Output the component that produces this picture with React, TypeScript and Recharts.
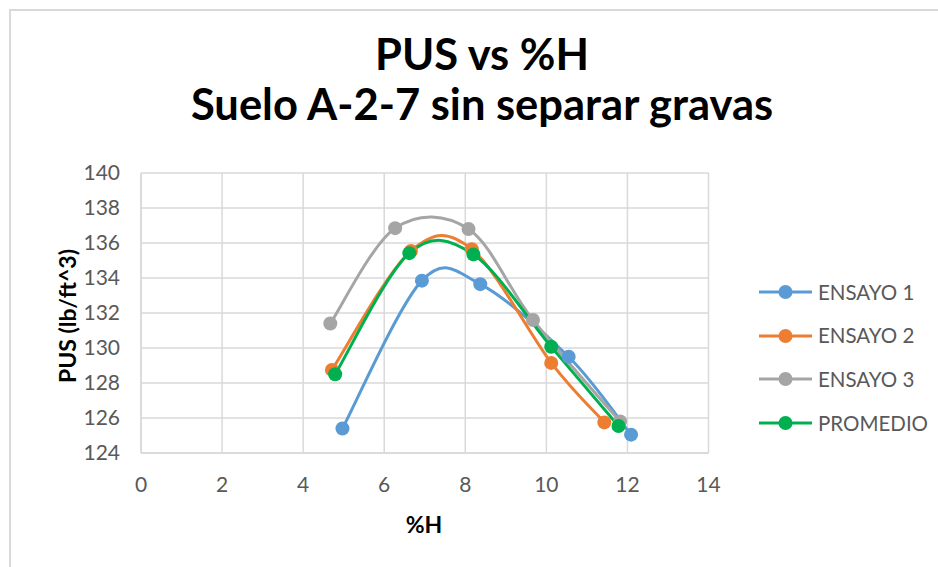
import { LineChart, Line, XAxis, YAxis, CartesianGrid, Legend } from "recharts";

// values (%H, PUS)
const ensayo1X = [4.97, 6.93, 8.37, 10.55, 12.09];
const ensayo1Y = [125.4, 133.85, 133.65, 129.5, 125.05];
const ensayo2X = [4.71, 6.66, 8.16, 10.12, 11.43];
const ensayo2Y = [128.75, 135.55, 135.65, 129.15, 125.75];
const ensayo3X = [4.67, 6.27, 8.08, 9.67, 11.82];
const ensayo3Y = [131.4, 136.85, 136.8, 131.6, 125.8];
const promedioX = [4.79, 6.62, 8.2, 10.12, 11.78];
const promedioY = [128.5, 135.42, 135.35, 130.07, 125.54];

const xTicks = [0, 2, 4, 6, 8, 10, 12, 14];
const yTicks = [124, 126, 128, 130, 132, 134, 136, 138, 140];

const FONT = "Lato, 'Open Sans', sans-serif";

const toPoints = (xs: number[], ys: number[]) =>
  xs.map((x, i) => ({ x, y: ys[i] }));

const series = [
  { name: "ENSAYO 1", color: "#5B9BD5", data: toPoints(ensayo1X, ensayo1Y) },
  { name: "ENSAYO 2", color: "#ED7D31", data: toPoints(ensayo2X, ensayo2Y) },
  { name: "ENSAYO 3", color: "#A5A5A5", data: toPoints(ensayo3X, ensayo3Y) },
  { name: "PROMEDIO", color: "#00B050", data: toPoints(promedioX, promedioY) },
];

// Excel-like smoothed line (Catmull-Rom through the points)
const excelSmooth = (context: any) => {
  let pts: number[][] = [];
  return {
    areaStart() {},
    areaEnd() {},
    lineStart() {
      pts = [];
    },
    point(x: number, y: number) {
      pts.push([+x, +y]);
    },
    lineEnd() {
      if (!pts.length) return;
      context.moveTo(pts[0][0], pts[0][1]);
      for (let i = 0; i < pts.length - 1; i++) {
        const p0 = pts[Math.max(i - 1, 0)];
        const p1 = pts[i];
        const p2 = pts[i + 1];
        const p3 = pts[Math.min(i + 2, pts.length - 1)];
        context.bezierCurveTo(
          p1[0] + (p2[0] - p0[0]) / 6,
          p1[1] + (p2[1] - p0[1]) / 6,
          p2[0] - (p3[0] - p1[0]) / 6,
          p2[1] - (p3[1] - p1[1]) / 6,
          p2[0],
          p2[1]
        );
      }
    },
  };
};

const renderLegend = (props: any) => (
  <div>
    {(props.payload || []).map((entry: any) => (
      <div
        key={entry.value}
        style={{ display: "flex", alignItems: "center", height: 43.8 }}
      >
        <svg width={53} height={16}>
          <line x1={0} y1={8} x2={53} y2={8} stroke={entry.color} strokeWidth={3} />
          <circle cx={26.5} cy={8} r={7} fill={entry.color} />
        </svg>
        <span
          style={{
            marginLeft: 6,
            fontSize: 20.5,
            color: "#595959",
            fontFamily: FONT,
            lineHeight: 1,
          }}
        >
          {entry.value}
        </span>
      </div>
    ))}
  </div>
);

export default function App() {
  return (
    <div
      style={{
        position: "fixed",
        left: 0,
        top: 0,
        width: 938,
        height: 567,
        background: "#fff",
        overflow: "hidden",
        fontFamily: FONT,
      }}
    >
      {/* chart area border (only top/left visible) */}
      <div
        style={{
          position: "absolute",
          left: 9,
          top: 9,
          width: 1000,
          height: 700,
          borderTop: "2px solid #D9D9D9",
          borderLeft: "2px solid #D9D9D9",
        }}
      />

      <div
        style={{
          position: "absolute",
          left: 0,
          top: 28,
          width: 964,
          textAlign: "center",
          fontWeight: 700,
          fontSize: 43.5,
          lineHeight: "50px",
          color: "#000",
        }}
      >
        <div>PUS vs %H</div>
        <div>Suelo A-2-7 sin separar gravas</div>
      </div>

      <div style={{ position: "absolute", left: 0, top: 0 }}>
        <LineChart
          width={938}
          height={567}
          margin={{ top: 173, right: 229.5, bottom: 74, left: 81 }}
        >
          <CartesianGrid stroke="#D9D9D9" strokeWidth={1.5} />
          <XAxis
            dataKey="x"
            type="number"
            domain={[0, 14]}
            ticks={xTicks}
            height={40}
            tickLine={false}
            tickMargin={18}
            axisLine={{ stroke: "#D9D9D9", strokeWidth: 1.5 }}
            tick={{ fill: "#595959", fontSize: 21, fontFamily: FONT }}
          />
          <YAxis
            dataKey="y"
            type="number"
            domain={[124, 140]}
            ticks={yTicks}
            width={60}
            tickLine={false}
            tickMargin={15}
            axisLine={{ stroke: "#D9D9D9", strokeWidth: 1.5 }}
            tick={{ fill: "#595959", fontSize: 21, fontFamily: FONT }}
          />
          <Legend
            layout="vertical"
            align="center"
            verticalAlign="middle"
            content={renderLegend}
            wrapperStyle={{ left: 759, top: 270, width: 180, height: 180 }}
          />
          {series.map((s) => (
            <Line
              key={s.name}
              data={s.data}
              dataKey="y"
              name={s.name}
              type={excelSmooth as any}
              stroke={s.color}
              strokeWidth={3}
              dot={{ r: 7, fill: s.color, stroke: s.color, strokeWidth: 0 }}
              activeDot={false}
              isAnimationActive={false}
            />
          ))}
        </LineChart>
      </div>

      <div
        style={{
          position: "absolute",
          left: 424,
          top: 524,
          transform: "translate(-50%, -50%)",
          fontWeight: 700,
          fontSize: 23,
          lineHeight: 1,
          color: "#000",
        }}
      >
        %H
      </div>
      <div
        style={{
          position: "absolute",
          left: 67,
          top: 316,
          transform: "translate(-50%, -50%) rotate(-90deg)",
          fontWeight: 700,
          fontSize: 23,
          lineHeight: 1,
          whiteSpace: "nowrap",
          color: "#000",
        }}
      >
        PUS (lb/ft^3)
      </div>
    </div>
  );
}
